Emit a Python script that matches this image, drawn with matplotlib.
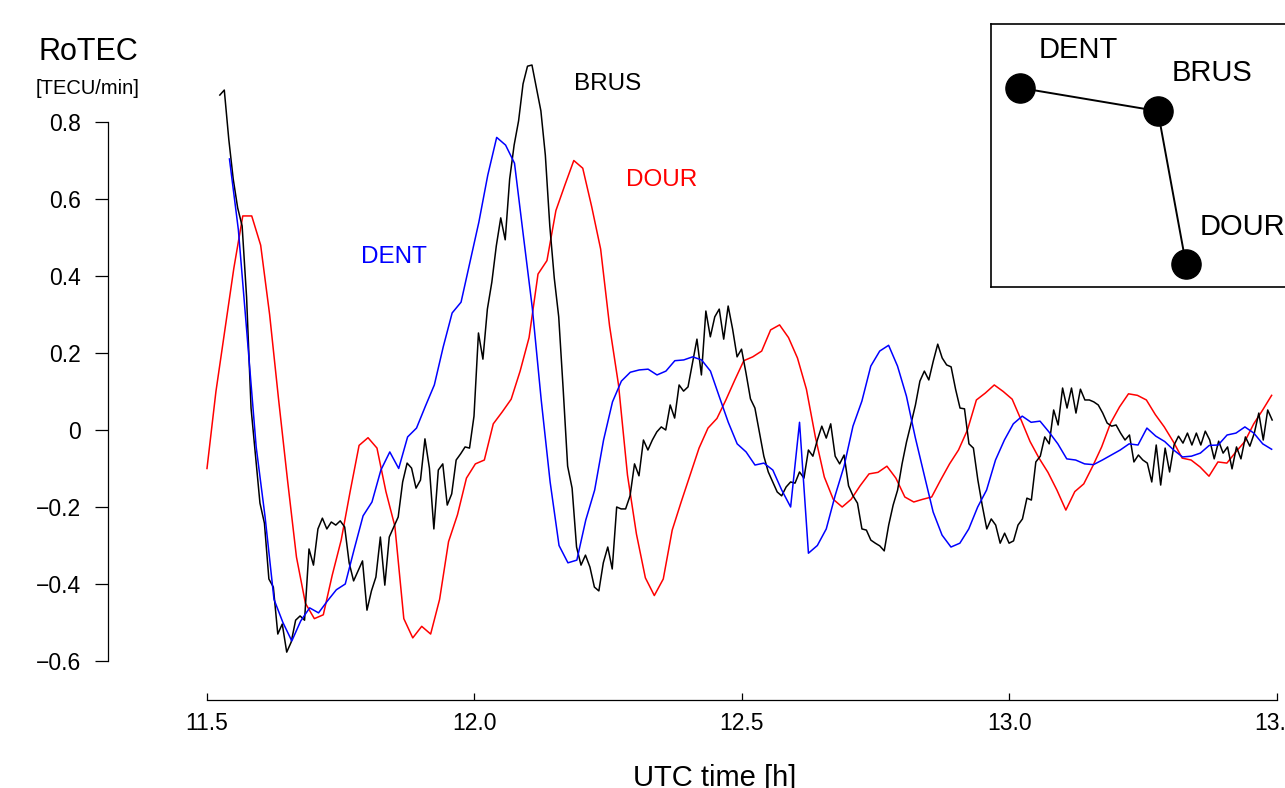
import numpy as np
import matplotlib
matplotlib.use('Agg')
import matplotlib.pyplot as plt

plt.rcParams['font.family'] = ['Liberation Sans', 'DejaVu Sans']

# RoTEC series [TECU/min]; first/last sample time in UTC hours
dour_t = (11.500, 13.490)
dour = [-0.10, 0.10, 0.26, 0.42, 0.556, 0.556, 0.48, 0.30, 0.08, -0.13,
        -0.33, -0.45, -0.49, -0.48, -0.377, -0.286, -0.16, -0.04, -0.02, -0.047,
        -0.16, -0.25, -0.49, -0.54, -0.51, -0.53, -0.44, -0.29, -0.22, -0.125,
        -0.088, -0.078, 0.016, 0.047, 0.08, 0.153, 0.24, 0.405, 0.44, 0.57,
        0.636, 0.70, 0.68, 0.58, 0.47, 0.27, 0.117, -0.117, -0.27, -0.384,
        -0.43, -0.387, -0.26, -0.187, -0.117, -0.047, 0.005, 0.03, 0.078, 0.13,
        0.18, 0.19, 0.205, 0.26, 0.273, 0.24, 0.187, 0.106, -0.018, -0.122,
        -0.18, -0.20, -0.18, -0.145, -0.114, -0.11, -0.094, -0.125, -0.174, -0.187,
        -0.18, -0.174, -0.13, -0.088, -0.052, 0.0, 0.078, 0.096, 0.117, 0.10,
        0.08, 0.026, -0.03, -0.073, -0.11, -0.156, -0.208, -0.16, -0.14, -0.094,
        -0.044, 0.018, 0.06, 0.094, 0.09, 0.078, 0.04, 0.008, -0.03, -0.073,
        -0.078, -0.096, -0.12, -0.083, -0.086, -0.057, -0.03, 0.016, 0.052, 0.09]

dent_t = (11.542, 13.490)
dent = [0.704, 0.52, 0.24, -0.044, -0.226, -0.44, -0.50, -0.548, -0.496, -0.462,
        -0.475, -0.444, -0.415, -0.40, -0.31, -0.223, -0.187, -0.104, -0.057, -0.10,
        -0.018, 0.005, 0.062, 0.117, 0.216, 0.304, 0.332, 0.436, 0.54, 0.662,
        0.76, 0.74, 0.693, 0.504, 0.317, 0.078, -0.135, -0.30, -0.345, -0.338,
        -0.234, -0.156, -0.026, 0.073, 0.127, 0.15, 0.156, 0.158, 0.143, 0.153,
        0.18, 0.182, 0.19, 0.182, 0.153, 0.086, 0.02, -0.036, -0.057, -0.091,
        -0.086, -0.104, -0.156, -0.20, 0.02, -0.32, -0.30, -0.257, -0.17, -0.094,
        0.01, 0.075, 0.166, 0.205, 0.22, 0.166, 0.088, -0.02, -0.117, -0.213,
        -0.273, -0.304, -0.294, -0.257, -0.20, -0.156, -0.078, -0.026, 0.016, 0.036,
        0.02, 0.023, -0.005, -0.036, -0.075, -0.078, -0.088, -0.09, -0.078, -0.065,
        -0.052, -0.036, -0.039, 0.005, -0.016, -0.03, -0.052, -0.07, -0.068, -0.06,
        -0.04, -0.039, -0.013, -0.008, 0.008, -0.008, -0.036, -0.05]

brus_t = (11.524, 13.491)
brus = [0.870, 0.883, 0.756, 0.652, 0.577, 0.530, 0.345, 0.057,
        -0.068, -0.190, -0.242, -0.387, -0.408, -0.530, -0.504, -0.577, -0.551, -0.494,
        -0.483, -0.494, -0.309, -0.351, -0.257, -0.229, -0.257, -0.239, -0.247, -0.236,
        -0.252, -0.345, -0.392, -0.366, -0.340, -0.468, -0.418, -0.382, -0.278, -0.403,
        -0.278, -0.252, -0.226, -0.135, -0.086, -0.099, -0.151, -0.130, -0.023, -0.099,
        -0.257, -0.104, -0.088, -0.195, -0.166, -0.078, -0.062, -0.044, -0.047, 0.036,
        0.252, 0.184, 0.314, 0.384, 0.478, 0.551, 0.494, 0.652, 0.740, 0.803,
        0.899, 0.945, 0.948, 0.888, 0.829, 0.714, 0.530, 0.395, 0.294,
        0.106, -0.094, -0.151, -0.304, -0.351, -0.325, -0.356, -0.408, -0.418, -0.345,
        -0.304, -0.361, -0.200, -0.205, -0.205, -0.171, -0.088, -0.119, -0.026, -0.052,
        -0.026, -0.005, 0.008, 0.000, 0.065, 0.031, 0.117, 0.101, 0.112, 0.174,
        0.236, 0.143, 0.309, 0.242, 0.294, 0.314, 0.236, 0.322, 0.262, 0.190,
        0.210, 0.148, 0.081, 0.057, -0.005, -0.068, -0.109, -0.135, -0.161, -0.171,
        -0.148, -0.135, -0.138, -0.109, -0.125, -0.052, -0.068, -0.026, 0.010, -0.021,
        0.016, -0.068, -0.088, -0.065, -0.145, -0.171, -0.190, -0.257, -0.260, -0.286,
        -0.294, -0.301, -0.314, -0.247, -0.195, -0.156, -0.088, -0.031, 0.016, 0.065,
        0.127, 0.153, 0.130, 0.179, 0.223, 0.187, 0.169, 0.164, 0.106, 0.057,
        0.055, -0.036, -0.047, -0.130, -0.197, -0.257, -0.231, -0.247, -0.294, -0.268,
        -0.294, -0.288, -0.247, -0.231, -0.177, -0.182, -0.083, -0.068, -0.018, -0.036,
        0.052, 0.013, 0.109, 0.057, 0.109, 0.044, 0.106, 0.078, 0.078, 0.073,
        0.065, 0.044, 0.018, 0.010, 0.013, -0.008, -0.026, -0.013, -0.083, -0.065,
        -0.078, -0.086, -0.135, -0.039, -0.143, -0.047, -0.109, -0.039, -0.016, -0.034,
        -0.008, -0.039, -0.008, -0.039, -0.003, -0.026, -0.075, -0.029, -0.060, -0.044,
        -0.101, -0.044, -0.075, -0.018, -0.042, -0.008, 0.044, -0.026, 0.052, 0.026]

xticks = [11.5, 12.0, 12.5, 13.0, 13.5]
xticklabels = ['11.5', '12.0', '12.5', '13.0', '13.5']
yticks = [-0.6, -0.4, -0.2, 0.0, 0.2, 0.4, 0.6, 0.8]
yticklabels = ['\u22120.6', '\u22120.4', '\u22120.2', '0', '0.2', '0.4', '0.6', '0.8']

# station map for the inset (relative positions)
station_names = ['DENT', 'BRUS', 'DOUR']
station_x = [0.094, 0.540, 0.631]
station_y = [0.757, 0.669, 0.087]

fig = plt.figure(figsize=(12.85, 7.88), dpi=100)
ax = fig.add_axes([0, 0, 1, 1])
ax.patch.set_visible(False)
ax.set_xlim(11.1131, 13.5150)
ax.set_ylim(-0.9299, 1.1169)

ax.plot(np.linspace(*dour_t, len(dour)), dour, color='#ff0000', lw=1.1)
ax.plot(np.linspace(*brus_t, len(brus)), brus, color='#000000', lw=1.1)
ax.plot(np.linspace(*dent_t, len(dent)), dent, color='#0000ff', lw=1.1)

ax.text(11.8495, 0.449, 'DENT', color='#0000ff', fontsize=17.5, ha='center', va='center')
ax.text(12.2495, 0.899, 'BRUS', color='black', fontsize=17.5, ha='center', va='center')
ax.text(12.3505, 0.649, 'DOUR', color='#ff0000', fontsize=17.5, ha='center', va='center')

for s in ['top', 'right']:
    ax.spines[s].set_visible(False)
ax.spines['left'].set_position(('data', 11.315))
ax.spines['left'].set_bounds(-0.6, 0.8)
ax.spines['bottom'].set_position(('data', -0.7013))
ax.spines['bottom'].set_bounds(11.5, 13.5)
for s in ['left', 'bottom']:
    ax.spines[s].set_linewidth(0.9)

ax.set_xticks(xticks)
ax.set_xticklabels(xticklabels)
ax.set_yticks(yticks)
ax.set_yticklabels(yticklabels)
ax.tick_params(axis='y', direction='out', length=9.2, width=0.9, pad=10.5, labelsize=16.5)
ax.tick_params(axis='x', direction='in', length=5, width=0.9, pad=9, labelsize=16.5)

fig.text(0.0685, 0.934, 'RoTEC', fontsize=22, ha='center', va='center')
fig.text(0.0685, 0.888, '[TECU/min]', fontsize=14.5, ha='center', va='center')
fig.text(0.5564, 0.002, 'UTC time [h]', fontsize=21, ha='center', va='baseline')

# inset with station layout
ins = fig.add_axes([991 / 1285, 1 - 287 / 788, 309 / 1285, 263 / 788])
ins.set_xlim(0, 1)
ins.set_ylim(0, 1)
ins.set_xticks([])
ins.set_yticks([])
for s in ins.spines.values():
    s.set_linewidth(1.2)
ins.plot(station_x, station_y, '-', color='black', lw=1.4, marker='o', ms=21,
         mfc='black', mec='black')
label_offsets = [(58, 38, 'center'), (54, 38, 'center'), (14, 37, 'left')]
for name, x, y, (dx, dy, ha) in zip(station_names, station_x, station_y, label_offsets):
    ins.annotate(name, (x, y), xytext=(dx, dy), textcoords='offset pixels',
                 fontsize=21, ha=ha, va='center', annotation_clip=False)

fig.savefig('out.png', dpi=100)
